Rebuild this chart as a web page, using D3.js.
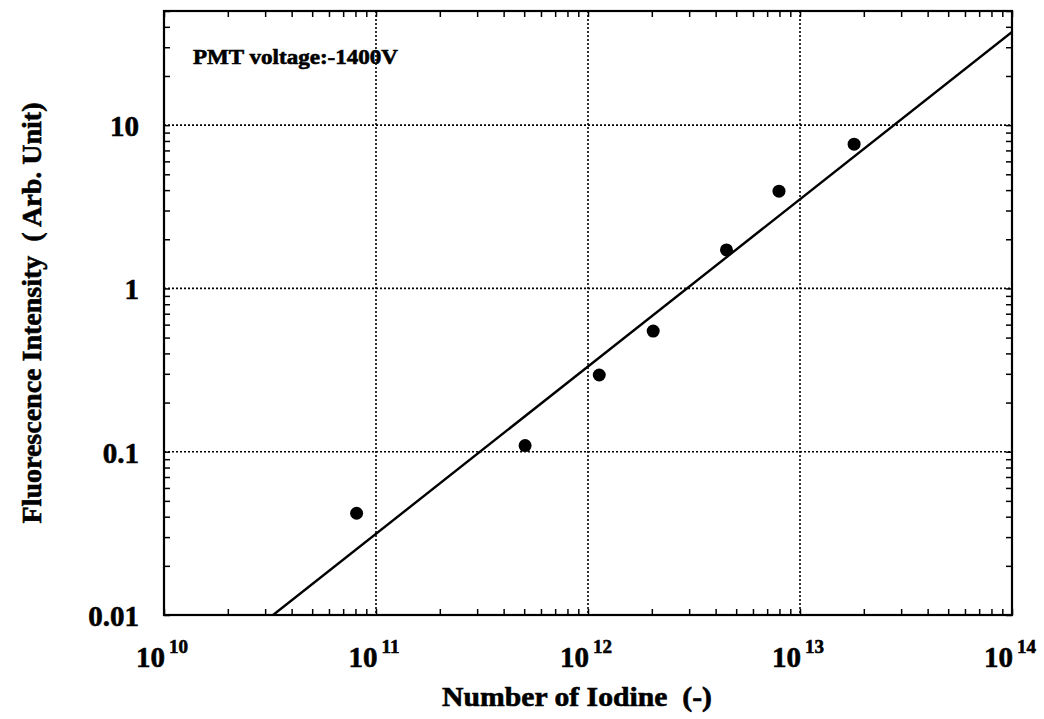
<!DOCTYPE html>
<html>
<head>
<meta charset="utf-8">
<script src="https://cdn.jsdelivr.net/npm/d3@7"></script>
<style>
  body { margin: 0; background: #fff; }
  svg { display: block; font-family: "Liberation Serif", "DejaVu Serif", serif; font-weight: bold; }
  svg text { white-space: pre; fill: #000; stroke: #000; stroke-width: 0.6; }
</style>
</head>
<body>
<svg id="chart" width="1044" height="719"></svg>
<script>
// data
var iodine = [8.1e10, 5.05e11, 1.13e12, 2.03e12, 4.5e12, 7.96e12, 1.8e13];
var intensity = [0.042, 0.109, 0.295, 0.548, 1.72, 3.94, 7.65];
var fitX = [3.27e10, 1e14];
var fitY = [0.01, 37.2];
var xDecades = [1e10, 1e11, 1e12, 1e13, 1e14];
var xExponents = ['10', '11', '12', '13', '14'];
var yDecades = [0.01, 0.1, 1, 10];
var yLabels = ['0.01', '0.1', '1', '10'];

var plotLeft = 164, plotRight = 1012, plotTop = 11, plotBottom = 615;

var svg = d3.select('#chart');
var x = d3.scaleLog().domain([1e10, 1e14]).range([plotLeft, plotRight]);
var y = d3.scaleLog().domain([0.01, 50]).range([plotBottom, plotTop]);

svg.append('defs').append('clipPath').attr('id', 'plot')
   .append('rect').attr('x', plotLeft).attr('y', plotTop)
   .attr('width', plotRight - plotLeft).attr('height', plotBottom - plotTop);

// dotted grid at decades
var grid = svg.append('g').attr('stroke', '#000').attr('stroke-width', 1.6)
              .attr('stroke-dasharray', '2,2');
xDecades.slice(1, -1).forEach(function(d) {
    grid.append('line').attr('x1', x(d)).attr('x2', x(d)).attr('y1', plotTop).attr('y2', plotBottom);
});
yDecades.slice(1).forEach(function(d) {
    grid.append('line').attr('x1', plotLeft).attr('x2', plotRight).attr('y1', y(d)).attr('y2', y(d));
});

// inward minor ticks on all four sides
function noLabel() { return ''; }
svg.append('g').attr('transform', 'translate(0,' + plotBottom + ')')
   .call(d3.axisBottom(x).tickSize(-6).tickFormat(noLabel));
svg.append('g').attr('transform', 'translate(0,' + plotTop + ')')
   .call(d3.axisTop(x).tickSize(-6).tickFormat(noLabel));
svg.append('g').attr('transform', 'translate(' + plotLeft + ',0)')
   .call(d3.axisLeft(y).tickSize(-6).tickFormat(noLabel));
svg.append('g').attr('transform', 'translate(' + plotRight + ',0)')
   .call(d3.axisRight(y).tickSize(-6).tickFormat(noLabel));
svg.selectAll('.domain').remove();
svg.selectAll('.tick line').attr('stroke-width', 1.5);

// frame
svg.append('rect').attr('x', plotLeft).attr('y', plotTop)
   .attr('width', plotRight - plotLeft).attr('height', plotBottom - plotTop)
   .attr('fill', 'none').attr('stroke', '#000').attr('stroke-width', 2.2);

// fit line
var line = d3.line().x(function(d) { return x(d[0]); }).y(function(d) { return y(d[1]); });
svg.append('path').attr('clip-path', 'url(#plot)')
   .datum(d3.zip(fitX, fitY))
   .attr('d', line).attr('fill', 'none').attr('stroke', '#000').attr('stroke-width', 2.4);

// measured points
svg.append('g').selectAll('circle').data(d3.zip(iodine, intensity)).enter()
   .append('circle').attr('cx', function(d) { return x(d[0]); })
   .attr('cy', function(d) { return y(d[1]); })
   .attr('r', 6.5).attr('fill', '#000');

// x tick labels 10^n
xDecades.forEach(function(d, i) {
    var t = svg.append('text').attr('x', x(d) - 2).attr('y', 667)
               .attr('text-anchor', 'middle').style('font-size', '29px');
    t.append('tspan').text('10');
    t.append('tspan').attr('dx', 4).attr('dy', -14).style('font-size', '19px').text(xExponents[i]);
});

// y tick labels
yDecades.forEach(function(d, i) {
    svg.append('text').attr('x', 139).attr('y', y(d) + 11)
       .attr('text-anchor', 'end').style('font-size', '29px').text(yLabels[i]);
});

// titles
svg.append('text').attr('x', 442).attr('y', 706)
   .attr('textLength', 270).attr('lengthAdjust', 'spacingAndGlyphs')
   .style('font-size', '28px').text('Number of Iodine  (-)');
svg.append('text').attr('transform', 'translate(41,313) rotate(-90)')
   .attr('text-anchor', 'middle').style('font-size', '28px')
   .text('Fluorescence Intensity  ( Arb. Unit)');
svg.append('text').attr('x', 193).attr('y', 64)
   .attr('textLength', 205).attr('lengthAdjust', 'spacingAndGlyphs')
   .style('font-size', '21px').text('PMT voltage:-1400V');
</script>
</body>
</html>
